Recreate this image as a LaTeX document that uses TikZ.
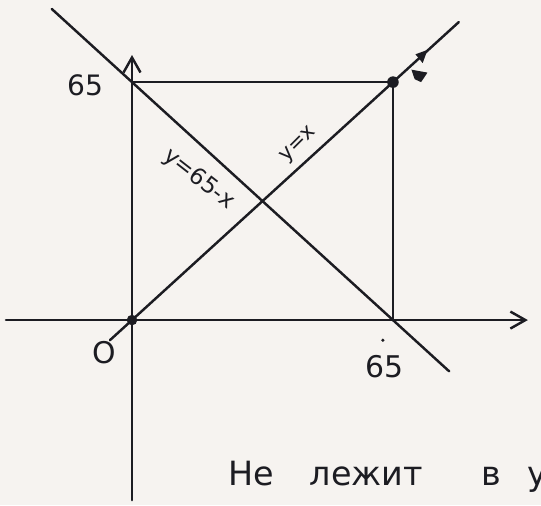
\documentclass[tikz,border=0pt]{standalone}
\usepackage{fontspec}
\setmainfont{DejaVu Sans}
\usetikzlibrary{arrows.meta}

\definecolor{paper}{RGB}{246,243,240}
\definecolor{ink}{RGB}{28,28,34}

\tikzset{
    pen/.style={line width=1.4pt, line cap=round, ink},
    axisarrow/.style={pen, -{Straight Barb[length=3mm, width=3.4mm]}},
    hand/.style={text=ink, inner sep=0pt},
}

\begin{document}
\begin{tikzpicture}[x=0.08031cm, y=0.07323cm]

        \fill[paper] (-32.88,-50.55) rectangle (101.87,87.43);
        \useasboundingbox (-32.88,-50.55) rectangle (101.87,87.43);

        %% ── Points de repère ─────────────────────────────────────────────
        \coordinate (O)      at (0,0);
        \coordinate (A)      at (65,0);
        \coordinate (B)      at (0,65);
        \coordinate (P)      at (65,65);
        \coordinate (xstart) at (-31.4,0);
        \coordinate (xend)   at (98.6,0);
        \coordinate (ystart) at (0,-49.2);
        \coordinate (yend)   at (0,72.4);

        %% ── Axes ─────────────────────────────────────────────────────────
        \draw[axisarrow] (xstart) -- (xend);
        \draw[axisarrow] (ystart) -- (yend);

        %% ── Carré ────────────────────────────────────────────────────────
        \draw[pen] (B) -- (P) -- (A);

        %% ── Droites y=x et y=65-x ────────────────────────────────────────
        \coordinate (dA) at (-5.5,-5.5);
        \coordinate (dB) at (81.4,81.4);
        \coordinate (eA) at (-20,85);
        \coordinate (eB) at (79,-14);
        \draw[pen] (dA) -- (dB);
        \draw[pen] (eA) -- (eB);

        %% ── Points ───────────────────────────────────────────────────────
        \fill[ink] (O) circle[radius=3pt];
        \fill[ink] (P) circle[radius=3.3pt];
        \fill[ink] (62.5,-5.5) circle[radius=1pt];
        \fill[ink] (70.6,72.6) -- (73.6,73.8) -- (72.4,70.2) -- cycle;
        \fill[ink] (69.6,68.4) -- (73.6,67.6) -- (72.0,65.0) -- (70.4,65.8) -- cycle;

        %% ── Étiquettes ───────────────────────────────────────────────────
        \node[hand, font=\fontsize{16}{18}\selectfont] (lab65y) at (-11.7,64.2) {65};
        \node[hand, font=\fontsize{17}{19}\selectfont] (lab65x) at (63.0,-12.6) {65};
        \node[hand, font=\fontsize{17}{19}\selectfont] (labO) at (-7.0,-8.9) {O};
        \node[hand, font=\fontsize{13}{15}\selectfont, rotate=-38] (labE)
            at (16.6,38.4) {y=65-x};
        \node[hand, font=\fontsize{12}{14}\selectfont, rotate=45] (labD)
            at (41.6,47.8) {y=x};

        %% ── Remarque ─────────────────────────────────────────────────────
        \node[hand, anchor=base west, font=\fontsize{19}{21}\selectfont] (note)
            at (23.9,-45.1)
            {Не\hspace{0.72cm}лежит\hspace{1.16cm}в\hspace{0.54cm}у};

    \end{tikzpicture}
\end{document}
